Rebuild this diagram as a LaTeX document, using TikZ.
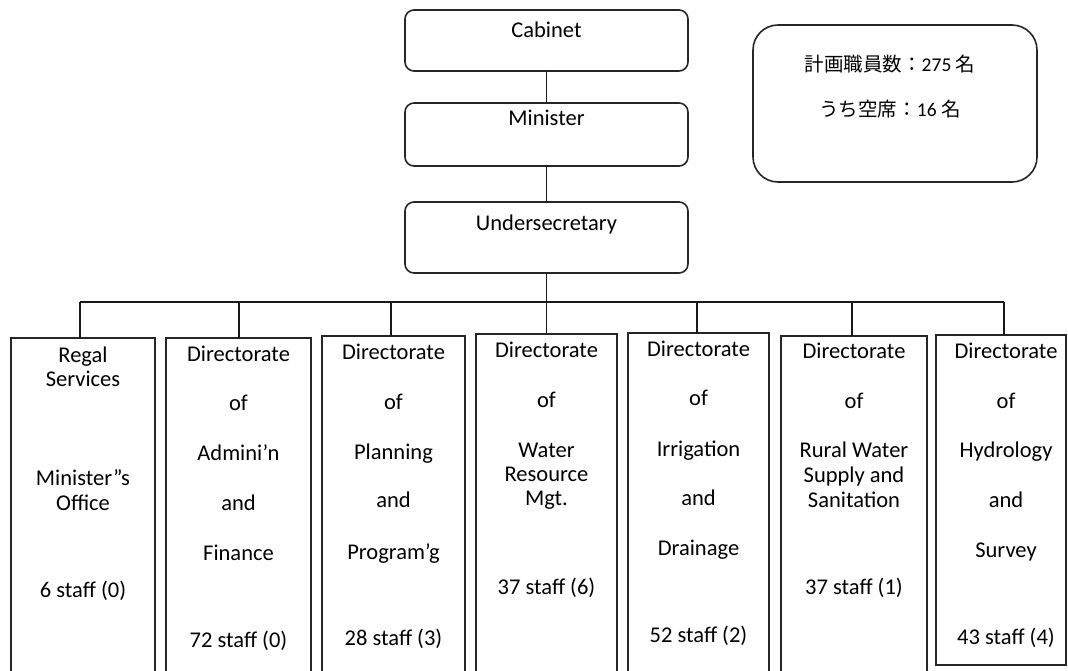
\documentclass[tikz,border=0pt]{standalone}
\usepackage{fontspec}
\setmainfont{Carlito}[Numbers=Lining]
\newfontfamily\jp{Noto Sans CJK JP}
\begin{document}
\begin{tikzpicture}[x=1pt,y=-1pt,
  every node/.style={inner sep=0pt,outer sep=0pt},
  headbox/.style={draw=black!85,line width=1.6pt,rounded corners=9pt,
    minimum width=283pt,anchor=north},
  unitbox/.style={draw=black!85,line width=1.5pt,anchor=north},
  lbl/.style={anchor=base,text=black,font=\fontsize{22.5}{24}\selectfont},
  jplbl/.style={anchor=base,text=black,font=\fontsize{19.5}{22}\selectfont},
  link/.style={draw=black!90,line width=1.9pt}]
\useasboundingbox (0,0) rectangle (1068,670);

% top of the hierarchy
\node[headbox,minimum height=61pt] (cab) at (546.5,10) {};
\node[headbox,minimum height=63pt] (min) at (546.5,103) {};
\node[headbox,minimum height=71pt] (und) at (546.5,202) {};
\node[lbl] (tcab) at (546.5,37) {Cabinet};
\node[lbl] (tmin) at (546.5,125) {Minister};
\node[lbl] (tund) at (546.5,230) {Undersecretary};

% staffing summary
\node[draw=black!85,line width=1.6pt,rounded corners=25pt,anchor=north,
  minimum width=284pt,minimum height=157pt] (sum) at (895,25) {};
\node[jplbl] (s1) at (890,71) {{\jp 計画職員数：}275 {\jp 名}};
\node[jplbl] (s2) at (890,116) {{\jp うち空席：}16 {\jp 名}};

\draw[link] (cab.south) -- (min.north);
\draw[link] (min.south) -- (und.north);

% distribution bar
\coordinate (bar) at (546.5,302);
\coordinate (d1) at (80,302);
\coordinate (d2) at (239,302);
\coordinate (d3) at (391,302);
\coordinate (d4) at (546.5,302);
\coordinate (d5) at (697,302);
\coordinate (d6) at (852,302);
\coordinate (d7) at (1004,302);
\draw[link] (und.south) -- (bar);
\draw[link] (d1) -- (d7);

% directorates
\node[unitbox,minimum width=144pt,minimum height=336pt] (b1) at (83,338) {};
\node[unitbox,minimum width=145pt,minimum height=336pt] (b2) at (238.5,338) {};
\node[unitbox,minimum width=143pt,minimum height=338pt] (b3) at (393.5,336) {};
\node[unitbox,minimum width=141pt,minimum height=340pt] (b4) at (546.5,334) {};
\node[unitbox,minimum width=141pt,minimum height=341pt] (b5) at (698.5,333) {};
\node[unitbox,minimum width=146pt,minimum height=338pt] (b6) at (854,336) {};
\node[unitbox,minimum width=130pt,minimum height=330pt] (b7) at (1001,335) {};

\foreach \i in {1,...,7}{
  \draw[link] (d\i) -- (d\i |- b\i.north);
}

% labels, box 1
\node[lbl] (l11) at (83,362) {Regal};
\node[lbl] (l12) at (83,386) {Services};
\node[lbl] (l13) at (83,485) {Minister”s};
\node[lbl] (l14) at (83,510) {Office};
\node[lbl] (l15) at (83,597) {6 staff (0)};
% box 2
\node[lbl] (l21) at (238.5,361) {Directorate};
\node[lbl] (l22) at (238.5,410) {of};
\node[lbl] (l23) at (238.5,460) {Admini’n};
\node[lbl] (l24) at (238.5,510) {and};
\node[lbl] (l25) at (238.5,560) {Finance};
\node[lbl] (l26) at (238.5,647) {72 staff (0)};
% box 3
\node[lbl] (l31) at (393.5,359) {Directorate};
\node[lbl] (l32) at (393.5,409) {of};
\node[lbl] (l33) at (393.5,459) {Planning};
\node[lbl] (l34) at (393.5,507) {and};
\node[lbl] (l35) at (393.5,559) {Program’g};
\node[lbl] (l36) at (393.5,645) {28 staff (3)};
% box 4
\node[lbl] (l41) at (546.5,357) {Directorate};
\node[lbl] (l42) at (546.5,407) {of};
\node[lbl] (l43) at (546.5,457) {Water};
\node[lbl] (l44) at (546.5,481) {Resource};
\node[lbl] (l45) at (546.5,505) {Mgt.};
\node[lbl] (l46) at (546.5,594) {37 staff (6)};
% box 5
\node[lbl] (l51) at (698.5,356) {Directorate};
\node[lbl] (l52) at (698.5,405) {of};
\node[lbl] (l53) at (698.5,456) {Irrigation};
\node[lbl] (l54) at (698.5,505) {and};
\node[lbl] (l55) at (698.5,555) {Drainage};
\node[lbl] (l56) at (698.5,642) {52 staff (2)};
% box 6
\node[lbl] (l61) at (854,358) {Directorate};
\node[lbl] (l62) at (854,408) {of};
\node[lbl] (l63) at (854,457) {Rural Water};
\node[lbl] (l64) at (854,482) {Supply and};
\node[lbl] (l65) at (854,507) {Sanitation};
\node[lbl] (l66) at (854,594) {37 staff (1)};
% box 7
\node[lbl] (l71) at (1006,358) {Directorate};
\node[lbl] (l72) at (1006,408) {of};
\node[lbl] (l73) at (1006,457) {Hydrology};
\node[lbl] (l74) at (1006,507) {and};
\node[lbl] (l75) at (1006,557) {Survey};
\node[lbl] (l76) at (1006,644) {43 staff (4)};
\end{tikzpicture}
\end{document}
